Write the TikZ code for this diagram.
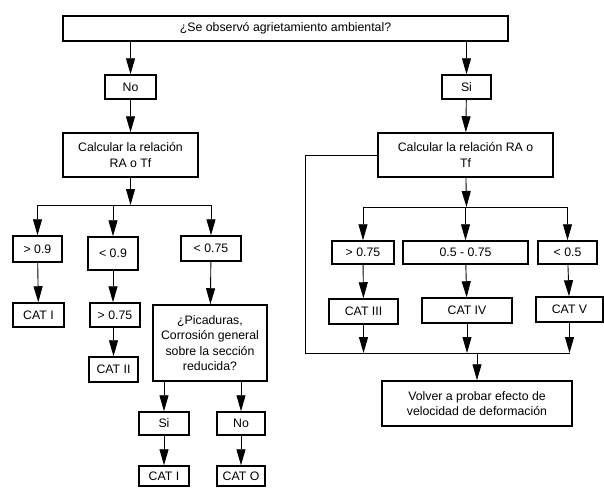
\documentclass[tikz,border=0pt]{standalone}
\usepackage{fontspec}
\setmainfont{Liberation Sans}
\usetikzlibrary{arrows.meta}

\begin{document}
\begin{tikzpicture}[x=1pt,y=-1pt,
  box/.style={draw,line width=1.5pt,align=center,inner sep=0pt,
    font=\fontsize{12.3}{15.5}\selectfont},
  arr/.style={line width=0.9pt,-{Triangle[length=16pt,width=9pt]}},
  ln/.style={line width=0.9pt}]
\useasboundingbox (0,0) rectangle (604,487);
\node[box,minimum width=445pt,minimum height=25pt] (top) at (285.5,28.5) {¿Se observó agrietamiento ambiental?};
\node[box,minimum width=51pt,minimum height=24pt] (no) at (130.5,87) {No};
\node[box,minimum width=49pt,minimum height=24pt] (si) at (466.5,87) {Si};
\node[box,minimum width=135pt,minimum height=44pt] (calcL) at (130.5,155) {Calcular la relación\\RA o Tf};
\node[box,minimum width=175pt,minimum height=44pt] (calcR) at (465.5,155) {Calcular la relación RA o\\Tf};
\node[box,minimum width=49pt,minimum height=26pt] (g09) at (37.5,249) {> 0.9};
\node[box,minimum width=50pt,minimum height=33pt] (l09) at (113,253.5) {< 0.9};
\node[box,minimum width=60pt,minimum height=25pt] (l075) at (211,248.5) {< 0.75};
\node[box,minimum width=51pt,minimum height=24pt] (catIa) at (38.5,315) {CAT I};
\node[box,minimum width=50pt,minimum height=24pt] (g075a) at (115,315) {> 0.75};
\node[box,minimum width=49pt,minimum height=25pt] (catII) at (113.5,369.5) {CAT II};
\node[box,minimum width=114pt,minimum height=76pt] (pic) at (210,343) {¿Picaduras,\\Corrosión general\\sobre la sección\\reducida?};
\node[box,minimum width=50pt,minimum height=23pt] (sib) at (164,423.5) {Si};
\node[box,minimum width=48pt,minimum height=23pt] (nob) at (241,423.5) {No};
\node[box,minimum width=50pt,minimum height=20pt] (catIb) at (164,476) {CAT I};
\node[box,minimum width=48pt,minimum height=20pt] (catO) at (241,476) {CAT O};
\node[box,minimum width=62pt,minimum height=23pt] (g075b) at (363,252.5) {> 0.75};
\node[box,minimum width=125pt,minimum height=23pt] (mid) at (465.5,252.5) {0.5 - 0.75};
\node[box,minimum width=59pt,minimum height=23pt] (l05) at (567.5,252.5) {< 0.5};
\node[box,minimum width=69pt,minimum height=25pt] (catIII) at (363.5,311.5) {CAT III};
\node[box,minimum width=90pt,minimum height=25pt] (catIV) at (467,310.5) {CAT IV};
\node[box,minimum width=67pt,minimum height=25pt] (catV) at (569.5,309.5) {CAT V};
\node[box,minimum width=190pt,minimum height=45pt] (volver) at (477,403.5) {Volver a probar efecto de\\velocidad de deformación};
\coordinate (bL) at (130.5,205);
\coordinate (bR) at (466.5,207);
\coordinate (fb) at (305,353);

\draw[arr] (top.south -| no) -- (no);
\draw[arr] (no) -- (calcL);
\draw[arr] (top.south -| si) -- (si);
\draw[arr] (si) -- (calcR);
\draw[arr] (calcL) -- (bL);
\draw[ln] (bL -| g09) -- (bL -| l075);
\draw[arr] (bL -| g09) -- (g09);
\draw[arr] (bL -| l09) -- (l09);
\draw[arr] (bL -| l075) -- (l075);
\draw[arr] (g09) -- (catIa);
\draw[arr] (l09) -- (g075a.north -| l09);
\draw[arr] (g075a.south -| catII) -- (catII);
\draw[arr] (l075) -- (pic);
\draw[arr] (pic.south -| sib) -- (sib);
\draw[arr] (pic.south -| nob) -- (nob);
\draw[arr] (sib) -- (catIb);
\draw[arr] (nob) -- (catO);
\draw[arr] (calcR) -- (bR);
\draw[ln] (bR -| g075b) -- (bR -| l05);
\draw[arr] (bR -| g075b) -- (g075b);
\draw[arr] (bR -| mid) -- (mid);
\draw[arr] (bR -| l05) -- (l05);
\draw[arr] (g075b) -- (catIII);
\draw[arr] (mid) -- (catIV);
\draw[arr] (l05) -- (catV);
\draw[ln] (calcR.west) -| (fb) -- (fb -| catV);
\draw[arr] (catIII) -- (catIII |- fb);
\draw[arr] (catIV) -- (catIV |- fb);
\draw[arr] (catV) -- (catV |- fb);
\draw[arr] (volver |- fb) -- (volver);
\end{tikzpicture}
\end{document}
